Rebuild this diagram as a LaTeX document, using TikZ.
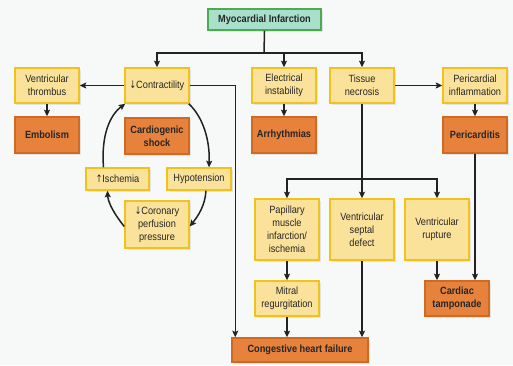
\documentclass[tikz,border=0pt]{standalone}
\usepackage{fontspec}
\setmainfont{Liberation Sans}[FakeStretch=0.88]
\newfontfamily\arrfont{DejaVu Sans}[FakeStretch=0.75]
\newcommand{\dnarr}{{\arrfont ↓}}
\newcommand{\uparr}{{\arrfont ↑}}
\usetikzlibrary{arrows.meta,calc,shadows}
\definecolor{bgc}{HTML}{F7F9F8}
\definecolor{yfill}{HTML}{FBE29B}
\definecolor{ydraw}{HTML}{F0C21C}
\definecolor{ofill}{HTML}{E7823C}
\definecolor{odraw}{HTML}{CF6A22}
\definecolor{mfill}{HTML}{A8E0CC}
\definecolor{mdraw}{HTML}{4DAA50}
\definecolor{linec}{HTML}{222222}
\tikzset{
  basebox/.style={rectangle, line width=1.5bp, align=center, inner sep=1bp,
    font=\fontsize{10.5}{13}\selectfont, text=black!85,
    drop shadow={shadow xshift=1.5bp, shadow yshift=-1.5bp, opacity=0.22, fill=black!40}},
  ybox/.style={basebox, fill=yfill, draw=ydraw},
  obox/.style={basebox, fill=ofill, draw=odraw, font=\fontsize{10.5}{13}\selectfont\bfseries},
  mbox/.style={basebox, fill=mfill, draw=mdraw, font=\fontsize{10.5}{13}\selectfont\bfseries},
  arr/.style={draw=linec, line width=1.5bp, -{Stealth[length=6.5bp,width=6bp,inset=1.2bp]}},
  ln/.style={draw=linec, line width=1.5bp},
}
\begin{document}
\begin{tikzpicture}[x=1bp,y=-1bp]
\fill[bgc] (0,0) rectangle (513,365);
\useasboundingbox (0,0) rectangle (513,365);

% top
\node[mbox, minimum width=113bp, minimum height=21bp] (mi) at (264.5,19.5) {Myocardial Infarction};

% row 1
\node[ybox, minimum width=64bp, minimum height=35bp] (vt) at (47,85.5) {Ventricular\\thrombus};
\node[ybox, minimum width=64bp, minimum height=35bp] (contr) at (157,85.5) {\dnarr Contractility};
\node[ybox, minimum width=64bp, minimum height=35bp] (elec) at (284,85.5) {Electrical\\instability};
\node[ybox, minimum width=64bp, minimum height=35bp] (tissue) at (362,85.5) {Tissue\\necrosis};
\node[ybox, minimum width=64bp, minimum height=35bp] (peri) at (475,85.5) {Pericardial\\inflammation};

% row 2
\node[obox, minimum width=64bp, minimum height=36bp] (emb) at (47,135) {Embolism};
\node[obox, minimum width=64bp, minimum height=36bp] (shock) at (157,136) {Cardiogenic\\shock};
\node[obox, minimum width=64bp, minimum height=36bp] (arrh) at (284,135) {Arrhythmias};
\node[obox, minimum width=64bp, minimum height=36bp] (pcard) at (475,135) {Pericarditis};

% loop
\node[ybox, minimum width=63bp, minimum height=22bp] (isch) at (117.5,179) {\uparr Ischemia};
\node[ybox, minimum width=64bp, minimum height=22bp] (hyp) at (199,179) {Hypotension};
\node[ybox, minimum width=64bp, minimum height=47bp] (cor) at (157,224.5) {\dnarr Coronary\\perfusion\\pressure};

% row 3
\node[ybox, minimum width=64bp, minimum height=61bp] (pap) at (287,229.5) {Papillary\\muscle\\infarction/\\ischemia};
\node[ybox, minimum width=64bp, minimum height=61bp] (vsd) at (362,229.5) {Ventricular\\septal\\defect};
\node[ybox, minimum width=64bp, minimum height=61bp] (rupt) at (437,229.5) {Ventricular\\rupture};

\node[ybox, minimum width=64bp, minimum height=35bp] (mitral) at (287,298.5) {Mitral\\regurgitation};
\node[obox, minimum width=64bp, minimum height=35bp] (tamp) at (457,298.5) {Cardiac\\tamponade};
\node[obox, minimum width=136bp, minimum height=24bp] (chf) at (300,350) {Congestive heart failure};

% connectors from MI
\coordinate (j1) at (264,53);
\draw[ln] (mi.south) -- (j1);
\draw[arr] (j1) -| (contr.north);
\draw[arr] (j1) -| (elec.north);
\draw[arr] (j1) -| (tissue.north);

\draw[arr] (contr.west) -- (vt.east);
\draw[arr] (vt.south) -- (emb.north);
\draw[arr] (elec.south) -- (arrh.north);
\draw[arr] (tissue.east) -- (peri.west);
\draw[arr] (peri.south) -- (pcard.north);
\draw[arr] (pcard.south) -- (pcard.south |- tamp.north);

\draw[arr] (contr.east) -| ([xshift=4bp]chf.north west);

% tissue necrosis branches
\coordinate (j2) at (362,179);
\draw[ln] (tissue.south) -- (j2);
\draw[arr] (j2) -| (pap.north);
\draw[arr] (j2) -- (vsd.north);
\draw[arr] (j2) -| (rupt.north);

\draw[arr] (rupt.south) -- (rupt.south |- tamp.north);
\draw[arr] (pap.south) -- (mitral.north);
\draw[arr] (mitral.south) -- (mitral.south |- chf.north);
\draw[arr] (vsd.south) -- (vsd.south |- chf.north);

% loop curves
\draw[arr] ([xshift=-1bp]contr.south east) .. controls (203,117) and (210,140) .. ([xshift=10bp]hyp.north);
\draw[arr] ([xshift=7bp]hyp.south) .. controls (205,206) and (198,216) .. ([yshift=-2bp]cor.east);
\draw[arr] ([yshift=-2bp]cor.west) .. controls (115,215) and (108,203) .. ([xshift=-10bp]isch.south);
\draw[arr] ([xshift=-14bp]isch.north) .. controls (101,135) and (110,115) .. ([xshift=1bp]contr.south west);
\end{tikzpicture}
\end{document}
